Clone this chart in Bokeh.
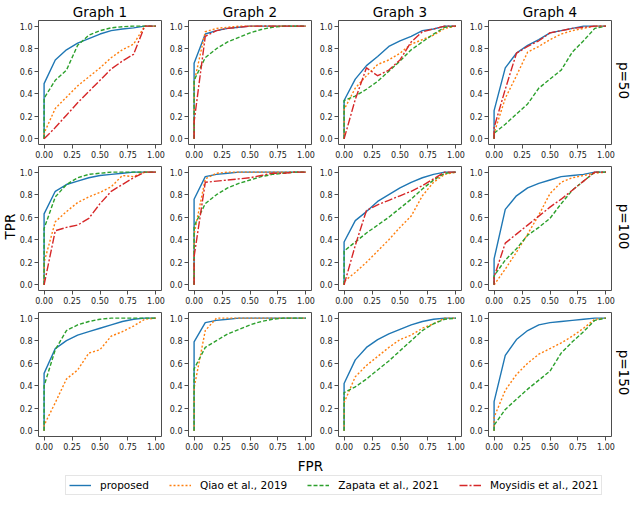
import math
from bokeh.plotting import figure
from bokeh.layouts import row, column
from bokeh.models import (Range1d, FixedTicker, PrintfTickFormatter, Label,
                          Legend, LegendItem)
from bokeh.embed import file_html
from bokeh.resources import INLINE

# ---------------- data ----------------
fpr = [0.0, 0.0, 0.1, 0.2, 0.3, 0.4, 0.5, 0.6, 0.7, 0.8, 0.9, 1.0]
graph_titles = ["Graph 1", "Graph 2", "Graph 3", "Graph 4"]
row_labels = ["p=50", "p=100", "p=150"]
methods = ["proposed", "Qiao et al., 2019", "Zapata et al., 2021", "Moysidis et al., 2021"]
x_ticks = [0.0, 0.25, 0.5, 0.75, 1.0]
y_ticks = [0.0, 0.2, 0.4, 0.6, 0.8, 1.0]

# p = 50
g1_p50_proposed = [0, .49, .70, .79, .85, .89, .93, .96, .975, .985, 1.0, 1.0]
g1_p50_qiao     = [0, .05, .27, .37, .47, .55, .63, .72, .79, .84, 1.0, 1.0]
g1_p50_zapata   = [0, .36, .52, .61, .83, .92, .96, .985, .995, 1.0, 1.0, 1.0]
g1_p50_moysidis = [0, 0, .10, .21, .32, .42, .52, .62, .69, .75, 1.0, 1.0]

g2_p50_proposed = [0, .67, .93, .96, .98, .99, 1.0, 1.0, 1.0, 1.0, 1.0, 1.0]
g2_p50_qiao     = [0, .50, .95, .98, .99, 1.0, 1.0, 1.0, 1.0, 1.0, 1.0, 1.0]
g2_p50_zapata   = [0, .52, .72, .80, .86, .90, .94, .97, .99, 1.0, 1.0, 1.0]
g2_p50_moysidis = [0, .15, .91, .96, .98, .99, 1.0, 1.0, 1.0, 1.0, 1.0, 1.0]

g3_p50_proposed = [0, .34, .53, .65, .73, .82, .87, .91, .96, .975, 1.0, 1.0]
g3_p50_qiao     = [0, .26, .45, .56, .66, .70, .76, .84, .88, .92, .98, 1.0]
g3_p50_zapata   = [0, .34, .38, .44, .51, .60, .69, .79, .86, .93, .99, 1.0]
g3_p50_moysidis = [0, 0, .35, .63, .56, .61, .70, .86, .95, .975, 1.0, 1.0]

g4_p50_proposed = [0, .25, .63, .76, .83, .88, .94, .96, .98, 1.0, 1.0, 1.0]
g4_p50_qiao     = [0, .05, .36, .56, .77, .82, .88, .93, .96, .98, 1.0, 1.0]
g4_p50_zapata   = [0, .05, .13, .22, .31, .45, .53, .61, .77, .87, .98, 1.0]
g4_p50_moysidis = [0, .10, .44, .76, .82, .87, .94, .96, .98, .99, 1.0, 1.0]

# p = 100
g1_p100_proposed = [0, .63, .83, .89, .92, .95, .97, .98, .99, 1.0, 1.0, 1.0]
g1_p100_qiao     = [0, .20, .56, .65, .73, .78, .82, .87, .97, .96, 1.0, 1.0]
g1_p100_zapata   = [0, .50, .78, .89, .95, .98, .99, 1.0, 1.0, 1.0, 1.0, 1.0]
g1_p100_moysidis = [0, 0, .48, .51, .53, .59, .72, .83, .89, .95, 1.0, 1.0]

g2_p100_proposed = [0, .76, .96, .98, .99, 1.0, 1.0, 1.0, 1.0, 1.0, 1.0, 1.0]
g2_p100_qiao     = [0, .45, .94, .99, 1.0, 1.0, 1.0, 1.0, 1.0, 1.0, 1.0, 1.0]
g2_p100_zapata   = [0, .52, .72, .80, .86, .90, .93, .96, .98, .99, 1.0, 1.0]
g2_p100_moysidis = [0, .25, .91, .92, .93, .94, .95, .97, .99, .99, 1.0, 1.0]

g3_p100_proposed = [0, .38, .57, .65, .74, .80, .86, .91, .95, .98, 1.0, 1.0]
g3_p100_qiao     = [0, .03, .11, .20, .30, .40, .51, .61, .79, .91, .98, 1.0]
g3_p100_zapata   = [0, .30, .38, .46, .53, .60, .68, .76, .85, .93, .99, 1.0]
g3_p100_moysidis = [0, 0, .35, .66, .71, .75, .79, .83, .88, .94, 1.0, 1.0]

g4_p100_proposed = [0, .23, .67, .79, .86, .90, .93, .96, .97, .98, 1.0, 1.0]
g4_p100_qiao     = [0, 0, .14, .29, .45, .62, .81, .91, .95, .97, .99, 1.0]
g4_p100_zapata   = [0, .08, .22, .32, .44, .51, .59, .72, .84, .92, 1.0, 1.0]
g4_p100_moysidis = [0, .07, .37, .45, .53, .61, .69, .76, .84, .92, 1.0, 1.0]

# p = 150
g1_p150_proposed = [0, .51, .73, .80, .85, .88, .91, .94, .97, .99, 1.0, 1.0]
g1_p150_qiao     = [0, .05, .25, .46, .54, .69, .72, .84, .88, .93, .99, 1.0]
g1_p150_zapata   = [0, .40, .72, .89, .94, .97, .99, 1.0, 1.0, 1.0, 1.0, 1.0]

g2_p150_proposed = [0, .79, .96, .98, .99, 1.0, 1.0, 1.0, 1.0, 1.0, 1.0, 1.0]
g2_p150_qiao     = [0, .38, .89, 1.0, 1.0, 1.0, 1.0, 1.0, 1.0, 1.0, 1.0, 1.0]
g2_p150_zapata   = [0, .55, .74, .80, .86, .90, .94, .97, .99, 1.0, 1.0, 1.0]

g3_p150_proposed = [0, .42, .63, .74, .81, .86, .90, .94, .97, .99, 1.0, 1.0]
g3_p150_qiao     = [0, .25, .48, .58, .66, .74, .81, .85, .91, .95, 1.0, 1.0]
g3_p150_zapata   = [0, .34, .39, .46, .54, .62, .71, .80, .89, .95, .99, 1.0]

g4_p150_proposed = [0, .26, .67, .81, .89, .94, .96, .97, .98, .99, 1.0, 1.0]
g4_p150_qiao     = [0, .12, .36, .50, .60, .68, .73, .78, .84, .91, .99, 1.0]
g4_p150_zapata   = [0, .05, .19, .28, .37, .45, .53, .69, .79, .88, .98, 1.0]

panels = [
    [[g1_p50_proposed, g1_p50_qiao, g1_p50_zapata, g1_p50_moysidis],
     [g2_p50_proposed, g2_p50_qiao, g2_p50_zapata, g2_p50_moysidis],
     [g3_p50_proposed, g3_p50_qiao, g3_p50_zapata, g3_p50_moysidis],
     [g4_p50_proposed, g4_p50_qiao, g4_p50_zapata, g4_p50_moysidis]],
    [[g1_p100_proposed, g1_p100_qiao, g1_p100_zapata, g1_p100_moysidis],
     [g2_p100_proposed, g2_p100_qiao, g2_p100_zapata, g2_p100_moysidis],
     [g3_p100_proposed, g3_p100_qiao, g3_p100_zapata, g3_p100_moysidis],
     [g4_p100_proposed, g4_p100_qiao, g4_p100_zapata, g4_p100_moysidis]],
    [[g1_p150_proposed, g1_p150_qiao, g1_p150_zapata, None],
     [g2_p150_proposed, g2_p150_qiao, g2_p150_zapata, None],
     [g3_p150_proposed, g3_p150_qiao, g3_p150_zapata, None],
     [g4_p150_proposed, g4_p150_qiao, g4_p150_zapata, None]],
]

# ---------------- style ----------------
colors = ["#1f77b4", "#ff7f0e", "#2ca02c", "#d62728"]
dashes = ["solid", "2 2", "4 2", "8 2 2 2"]
LW = 1.4
FONT = "DejaVu Sans"
FW, FH = 123, 124
L, R, R_LAST = 20, 5, 4
T_FIRST, T_OTHER, B = 18, 5, 17
SIDE_W = 16
SPINE = "#4d4d4d"

row_heights = [T_FIRST + FH + B, T_OTHER + FH + B, T_OTHER + FH + B]
H_ROWS = sum(row_heights)
frame_centers = []
acc = 0
for i, h in enumerate(row_heights):
    top = T_FIRST if i == 0 else T_OTHER
    frame_centers.append(H_ROWS - (acc + top + FH / 2))
    acc += h


def make_panel(r, c):
    p = figure(frame_width=FW, frame_height=FH,
               x_range=Range1d(-0.05, 1.05), y_range=Range1d(-0.05, 1.05),
               output_backend="svg", toolbar_location=None,
               title=graph_titles[c] if r == 0 else None,
               min_border_left=L, min_border_right=(R_LAST if c == 3 else R),
               min_border_top=(T_FIRST if r == 0 else T_OTHER),
               min_border_bottom=B)
    if r == 0:
        p.title.text_font = FONT
        p.title.text_font_size = "13.5px"
        p.title.text_font_style = "normal"
        p.title.align = "center"
        p.title.standoff = 2
        p.title.text_color = "#000000"
    p.xgrid.visible = False
    p.ygrid.visible = False
    p.outline_line_color = SPINE
    p.outline_line_width = 1
    p.background_fill_color = "white"
    p.border_fill_color = "white"
    p.xaxis.ticker = FixedTicker(ticks=x_ticks)
    p.yaxis.ticker = FixedTicker(ticks=y_ticks)
    p.xaxis.formatter = PrintfTickFormatter(format="%.2f")
    p.yaxis.formatter = PrintfTickFormatter(format="%.1f")
    for ax in (p.xaxis[0], p.yaxis[0]):
        ax.axis_line_color = None
        ax.major_tick_out = 4
        ax.major_tick_in = 0
        ax.minor_tick_out = 0
        ax.minor_tick_in = 0
        ax.major_tick_line_color = SPINE
        ax.major_label_text_font = FONT
        ax.major_label_text_font_size = "8px"
        ax.major_label_text_color = "#222222"
        ax.major_label_standoff = 2
    for k, tpr in enumerate(panels[r][c]):
        if tpr is None:
            continue
        p.line(fpr, tpr, line_color=colors[k], line_dash=dashes[k],
               line_width=LW, line_join="round")
    return p


grid_rows = [row(*[make_panel(r, c) for c in range(4)]) for r in range(3)]
grid = column(*grid_rows)

# left label (TPR)
left = figure(width=SIDE_W, height=H_ROWS, x_range=Range1d(0, SIDE_W), y_range=Range1d(0, H_ROWS),
              x_axis_type=None, y_axis_type=None, output_backend="svg",
              toolbar_location=None, min_border=0, outline_line_color=None)
left.grid.visible = False
left.add_layout(Label(x=SIDE_W / 2 + 1, y=frame_centers[1], text="TPR", angle=math.pi / 2,
                      text_align="center", text_baseline="middle",
                      text_font=FONT, text_font_size="13.5px", text_color="#000000"))

# right labels (p=...)
right = figure(width=SIDE_W, height=H_ROWS, x_range=Range1d(0, SIDE_W), y_range=Range1d(0, H_ROWS),
               x_axis_type=None, y_axis_type=None, output_backend="svg",
               toolbar_location=None, min_border=0, outline_line_color=None)
right.grid.visible = False
for i, lab in enumerate(row_labels):
    right.add_layout(Label(x=SIDE_W / 2, y=frame_centers[i], text=lab, angle=-math.pi / 2,
                           text_align="center", text_baseline="middle",
                           text_font=FONT, text_font_size="13.5px", text_color="#000000"))

# footer (FPR + legend)
FOOT_W, FOOT_H = 623, 44
foot = figure(width=FOOT_W, height=FOOT_H, x_range=Range1d(0, FOOT_W), y_range=Range1d(0, FOOT_H),
              x_axis_type=None, y_axis_type=None, output_backend="svg",
              toolbar_location=None, min_border=0, outline_line_color=None)
foot.grid.visible = False
foot.add_layout(Label(x=310, y=32, text="FPR", text_align="center", text_baseline="middle",
                      text_font=FONT, text_font_size="13.5px", text_color="#000000"))
# legend proxies: tiny lines placed outside the visible footer range
proxy_x = [-100, -99]
proxy_y = [-100, -99]
items = []
for k, m in enumerate(methods):
    rr = foot.line(x=proxy_x, y=proxy_y, line_color=colors[k], line_dash=dashes[k], line_width=LW)
    items.append(LegendItem(label=m, renderers=[rr]))
legend = Legend(items=items, orientation="horizontal", location=(65, 2),
                glyph_width=22, glyph_height=12, label_height=12, label_width=10,
                label_standoff=9, spacing=20, padding=3, margin=0,
                border_line_color="#cccccc", border_line_width=1,
                background_fill_color="white", background_fill_alpha=1.0,
                label_text_font=FONT, label_text_font_size="10.5px",
                label_text_color="#000000")
foot.add_layout(legend)

layout = column(row(left, grid, right), foot)

open("out.html", "w").write(file_html(layout, INLINE))
